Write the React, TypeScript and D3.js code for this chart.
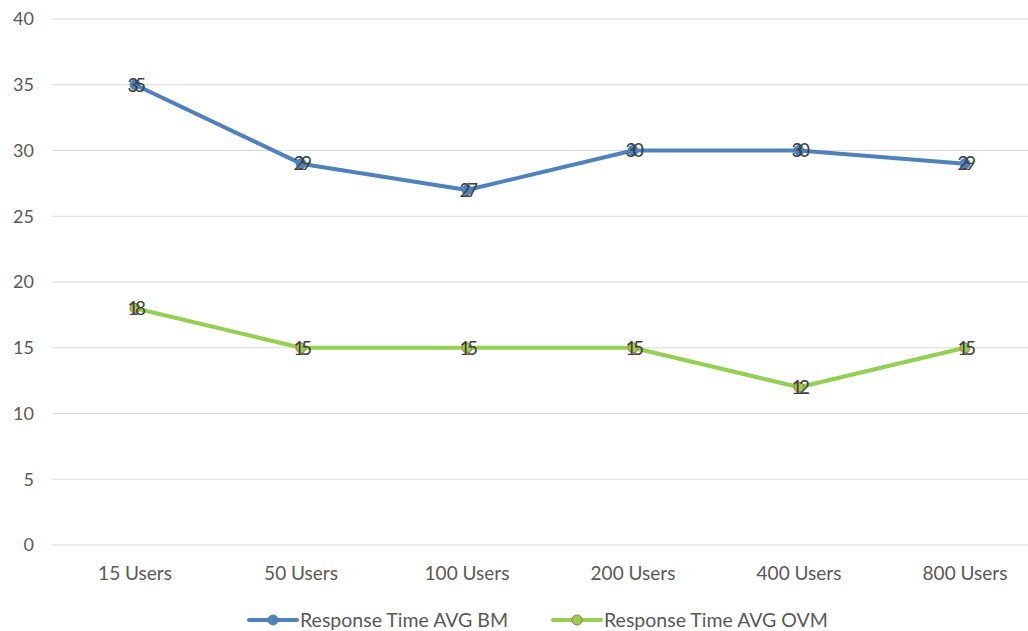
import React from "react";
import * as d3 from "d3";

const categories = ["15 Users", "50 Users", "100 Users", "200 Users", "400 Users", "800 Users"];
const bmValues = [35, 29, 27, 30, 30, 29];
const ovmValues = [18, 15, 15, 15, 12, 15];
const yTicks = [0, 5, 10, 15, 20, 25, 30, 35, 40];
const seriesNames = ["Response Time AVG BM", "Response Time AVG OVM"];

const W = 1028;
const H = 631;
const FONT = "Lato, 'Open Sans', sans-serif";

export default function App() {
  const x = d3.scaleBand<string>().domain(categories).range([52, 1048]);
  const y = d3.scaleLinear().domain([0, 40]).range([545, 19]);
  const cx = (c: string) => (x(c) as number) + x.bandwidth() / 2;
  const line = d3
    .line<number>()
    .x((_, i) => cx(categories[i]))
    .y((d) => y(d));

  const series = [
    { name: seriesNames[0], values: bmValues, color: "#4f81bd", fill: "#4f81bd", stroke: "#4f81bd", lx: 249 },
    { name: seriesNames[1], values: ovmValues, color: "#92d050", fill: "#92d050", stroke: "#e05050", lx: 553 },
  ];

  return (
    <svg width={W} height={H} style={{ position: "absolute", left: 0, top: 0, background: "#fff" }}>
      {yTicks.map((t) => (
        <g key={t}>
          <line x1={52} x2={1048} y1={y(t)} y2={y(t)} stroke="#d9d9d9" strokeWidth={1} />
          <text x={34} y={y(t)} dy="0.35em" textAnchor="end" fontSize={18} fill="#595959" fontFamily={FONT}>
            {t}
          </text>
        </g>
      ))}
      {categories.map((c) => (
        <text key={c} x={cx(c)} y={580} textAnchor="middle" fontSize={19} fill="#595959" fontFamily={FONT}>
          {c}
        </text>
      ))}
      {series.map((s) => (
        <g key={s.name}>
          <path d={line(s.values) || ""} fill="none" stroke={s.color} strokeWidth={4} strokeLinejoin="round" strokeLinecap="round" />
          {s.values.map((v, i) => (
            <circle key={i} cx={cx(categories[i])} cy={y(v)} r={5} fill={s.fill} stroke={s.stroke} strokeWidth={1} />
          ))}
          {s.values.map((v, i) => (
            <text
              key={"l" + i}
              x={cx(categories[i])}
              y={y(v)}
              dy="0.36em"
              textAnchor="middle"
              fontSize={19}
              fill="#404040"
              letterSpacing={-3.5}
              fontFamily={FONT}
            >
              {v}
            </text>
          ))}
          <line x1={s.lx} x2={s.lx + 48} y1={620} y2={620} stroke={s.color} strokeWidth={4} strokeLinecap="round" />
          <circle cx={s.lx + 24} cy={620} r={5} fill={s.fill} stroke={s.stroke} strokeWidth={1} />
          <text x={s.lx + 51} y={620} dy="0.35em" fontSize={19.5} fill="#595959" fontFamily={FONT}>
            {s.name}
          </text>
        </g>
      ))}
    </svg>
  );
}
